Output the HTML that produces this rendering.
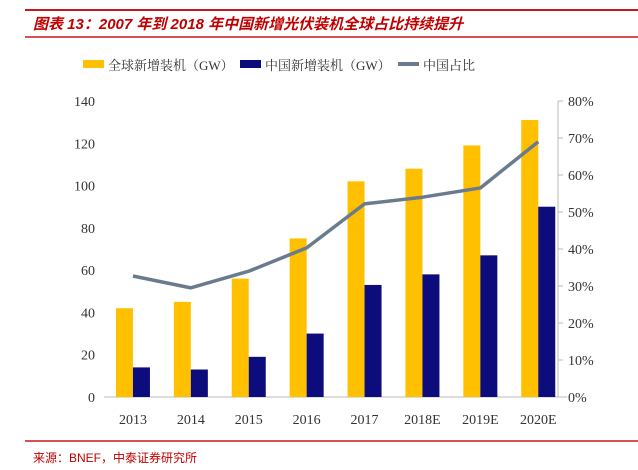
<!DOCTYPE html>
<html><head><meta charset="utf-8"><style>
body{margin:0;width:638px;height:470px;background:#fff;overflow:hidden;font-family:"Liberation Serif","Noto Serif CJK SC",serif}
svg{display:block}
</style></head><body>
<svg id="c" width="638" height="470">
<line x1="25" y1="10" x2="638" y2="10" stroke="#c8161d" stroke-width="2"/>
<text x="33" y="29" font-family="'Liberation Sans','Noto Sans CJK SC',sans-serif" font-size="15" font-weight="bold" font-style="italic" fill="#c00000">图表 13：2007 年到 2018 年中国新增光伏装机全球占比持续提升</text>
<line x1="25" y1="37" x2="638" y2="37" stroke="#c8161d" stroke-width="1.5"/>
<g font-size="13" fill="#333">
<rect x="83" y="60" width="21" height="8" fill="#ffc000"/>
<text x="108" y="70">全球新增装机（GW）</text>
<rect x="240" y="60" width="21" height="8" fill="#0c0c7c"/>
<text x="265" y="70">中国新增装机（GW）</text>
<rect x="398" y="62" width="21" height="4" fill="#6b7b8f"/>
<text x="423" y="70">中国占比</text>
</g>
<g id="plot"></g>
<line x1="25" y1="441" x2="638" y2="441" stroke="#c8161d" stroke-width="1.5"/>
<text x="33" y="462" font-family="'Liberation Sans','Noto Sans CJK SC',sans-serif" font-size="12" fill="#c00000">来源：BNEF，中泰证券研究所</text>
</svg>
<script>
const categories=["2013","2014","2015","2016","2017","2018E","2019E","2020E"];
const globalGW=[42,45,56,75,102,108,119,131];
const chinaGW=[14,13,19,30,53,58,67,90];
const chinaShare=[32.7,29.5,34,40.3,52.2,54,56.5,69];
const leftTicks=[0,20,40,60,80,100,120,140];
const rightTicks=[0,10,20,30,40,50,60,70,80];
const NS="http://www.w3.org/2000/svg";
const g=document.getElementById('plot');
const x0=104,step=57.9,yb=397,yt=101;
const yL=v=>yb-(v/140)*(yb-yt);
const yR=v=>yb-(v/80)*(yb-yt);
const xc=i=>x0+step*(i+0.5);
function mk(t,a){const e=document.createElementNS(NS,t);for(const k in a)e.setAttribute(k,a[k]);g.appendChild(e);return e;}
let ax=mk('line',{x1:x0,y1:yb,x2:x0+step*8,y2:yb,stroke:'#bbb'});


let ra=mk('line',{x1:558,y1:yt,x2:558,y2:yb,stroke:'#bbb'});


leftTicks.forEach(v=>{const t=mk('text',{x:95,y:yL(v)+5,'text-anchor':'end','font-size':14,fill:'#333'});t.textContent=v;

});
rightTicks.forEach(v=>{mk('line',{x1:558,y1:yR(v),x2:563,y2:yR(v),stroke:'#bbb'});
const t=mk('text',{x:568,y:yR(v)+5,'font-size':14,fill:'#333'});t.textContent=v+'%';

});
categories.forEach((c,i)=>{
const b1=mk('rect',{x:xc(i)-17,y:yL(globalGW[i]),width:17,height:yb-yL(globalGW[i]),fill:'#ffc000'});


const b2=mk('rect',{x:xc(i),y:yL(chinaGW[i]),width:17,height:yb-yL(chinaGW[i]),fill:'#0c0c7c'});


const t=mk('text',{x:xc(i),y:424,'text-anchor':'middle','font-size':14,fill:'#333'});t.textContent=c;


});
const pl=mk('polyline',{points:chinaShare.map((v,i)=>xc(i)+','+yR(v)).join(' '),fill:'none',stroke:'#6b7b8f','stroke-width':3.5,'stroke-linejoin':'round'});


</script>
</body></html>
